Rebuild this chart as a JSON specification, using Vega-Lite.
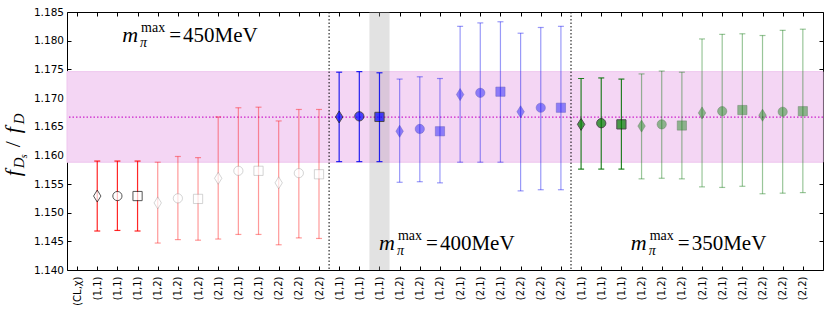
{
  "$schema": "https://vega.github.io/schema/vega-lite/v6.json",
  "width": 756,
  "height": 258,
  "autosize": {"type": "none"},
  "padding": {"left": 67, "top": 12, "right": 7, "bottom": 45},
  "config": {
    "font": "DejaVu Sans",
    "view": {"stroke": "black", "strokeWidth": 1},
    "axis": {"domain": false, "grid": false, "tickColor": "black", "tickSize": -4, "labelColor": "black", "labelFont": "DejaVu Sans", "titleFont": "DejaVu Sans"}
  },
  "datasets": {
    "pts": [
      {"idx": 1, "fit": "(1,1)", "mpi": "450", "variant": "A", "val": 1.1529, "lo": 1.1468, "hi": 1.1590},
      {"idx": 2, "fit": "(1,1)", "mpi": "450", "variant": "B", "val": 1.1529, "lo": 1.1469, "hi": 1.1590},
      {"idx": 3, "fit": "(1,1)", "mpi": "450", "variant": "C", "val": 1.1529, "lo": 1.1468, "hi": 1.1590},
      {"idx": 4, "fit": "(1,2)", "mpi": "450", "variant": "A", "val": 1.1517, "lo": 1.1447, "hi": 1.1588},
      {"idx": 5, "fit": "(1,2)", "mpi": "450", "variant": "B", "val": 1.1525, "lo": 1.1453, "hi": 1.1598},
      {"idx": 6, "fit": "(1,2)", "mpi": "450", "variant": "C", "val": 1.1524, "lo": 1.1452, "hi": 1.1596},
      {"idx": 7, "fit": "(2,1)", "mpi": "450", "variant": "A", "val": 1.1560, "lo": 1.1454, "hi": 1.1667},
      {"idx": 8, "fit": "(2,1)", "mpi": "450", "variant": "B", "val": 1.1573, "lo": 1.1462, "hi": 1.1683},
      {"idx": 9, "fit": "(2,1)", "mpi": "450", "variant": "C", "val": 1.1573, "lo": 1.1462, "hi": 1.1684},
      {"idx": 10, "fit": "(2,2)", "mpi": "450", "variant": "A", "val": 1.1552, "lo": 1.1444, "hi": 1.1660},
      {"idx": 11, "fit": "(2,2)", "mpi": "450", "variant": "B", "val": 1.1569, "lo": 1.1456, "hi": 1.1680},
      {"idx": 12, "fit": "(2,2)", "mpi": "450", "variant": "C", "val": 1.1567, "lo": 1.1455, "hi": 1.1680},
      {"idx": 13, "fit": "(1,1)", "mpi": "400", "variant": "A", "val": 1.1667, "lo": 1.1589, "hi": 1.1745},
      {"idx": 14, "fit": "(1,1)", "mpi": "400", "variant": "B", "val": 1.1668, "lo": 1.1589, "hi": 1.1746},
      {"idx": 15, "fit": "(1,1)", "mpi": "400", "variant": "C", "val": 1.1667, "lo": 1.1589, "hi": 1.1744},
      {"idx": 16, "fit": "(1,2)", "mpi": "400", "variant": "A", "val": 1.1642, "lo": 1.1553, "hi": 1.1733},
      {"idx": 17, "fit": "(1,2)", "mpi": "400", "variant": "B", "val": 1.1646, "lo": 1.1554, "hi": 1.1737},
      {"idx": 18, "fit": "(1,2)", "mpi": "400", "variant": "C", "val": 1.1642, "lo": 1.1552, "hi": 1.1734},
      {"idx": 19, "fit": "(2,1)", "mpi": "400", "variant": "A", "val": 1.1706, "lo": 1.1588, "hi": 1.1825},
      {"idx": 20, "fit": "(2,1)", "mpi": "400", "variant": "B", "val": 1.1709, "lo": 1.1588, "hi": 1.1831},
      {"idx": 21, "fit": "(2,1)", "mpi": "400", "variant": "C", "val": 1.1711, "lo": 1.1588, "hi": 1.1833},
      {"idx": 22, "fit": "(2,2)", "mpi": "400", "variant": "A", "val": 1.1676, "lo": 1.1538, "hi": 1.1813},
      {"idx": 23, "fit": "(2,2)", "mpi": "400", "variant": "B", "val": 1.1683, "lo": 1.1540, "hi": 1.1823},
      {"idx": 24, "fit": "(2,2)", "mpi": "400", "variant": "C", "val": 1.1683, "lo": 1.1540, "hi": 1.1825},
      {"idx": 25, "fit": "(1,1)", "mpi": "350", "variant": "A", "val": 1.1654, "lo": 1.1576, "hi": 1.1734},
      {"idx": 26, "fit": "(1,1)", "mpi": "350", "variant": "B", "val": 1.1656, "lo": 1.1576, "hi": 1.1735},
      {"idx": 27, "fit": "(1,1)", "mpi": "350", "variant": "C", "val": 1.1654, "lo": 1.1576, "hi": 1.1733},
      {"idx": 28, "fit": "(1,2)", "mpi": "350", "variant": "A", "val": 1.1651, "lo": 1.1559, "hi": 1.1742},
      {"idx": 29, "fit": "(1,2)", "mpi": "350", "variant": "B", "val": 1.1654, "lo": 1.1560, "hi": 1.1747},
      {"idx": 30, "fit": "(1,2)", "mpi": "350", "variant": "C", "val": 1.1652, "lo": 1.1559, "hi": 1.1745},
      {"idx": 31, "fit": "(2,1)", "mpi": "350", "variant": "A", "val": 1.1674, "lo": 1.1545, "hi": 1.1803},
      {"idx": 32, "fit": "(2,1)", "mpi": "350", "variant": "B", "val": 1.1677, "lo": 1.1544, "hi": 1.1811},
      {"idx": 33, "fit": "(2,1)", "mpi": "350", "variant": "C", "val": 1.1679, "lo": 1.1546, "hi": 1.1812},
      {"idx": 34, "fit": "(2,2)", "mpi": "350", "variant": "A", "val": 1.1670, "lo": 1.1533, "hi": 1.1809},
      {"idx": 35, "fit": "(2,2)", "mpi": "350", "variant": "B", "val": 1.1676, "lo": 1.1534, "hi": 1.1818},
      {"idx": 36, "fit": "(2,2)", "mpi": "350", "variant": "C", "val": 1.1677, "lo": 1.1535, "hi": 1.1820}
    ],
    "ann": [
      {"x": 4.86, "y": 1.1797, "label": "450MeV"},
      {"x": 17.6, "y": 1.1435, "label": "400MeV"},
      {"x": 30.09, "y": 1.1435, "label": "350MeV"}
    ],
    "ytitle": [
      {"x": -2.83, "y": 1.1560}
    ]
  },
  "resolve": {"axis": {"x": "independent", "y": "independent"}},
  "layer": [
    {
      "data": {"values": [{"lo": 1.1588, "hi": 1.1746}]},
      "mark": {"type": "rect", "fill": "#f4d6f4", "stroke": "#eec6ee", "strokeWidth": 1},
      "encoding": {
        "y": {"field": "lo", "type": "quantitative", "scale": {"domain": [1.14, 1.185], "nice": false, "zero": false}, "axis": null},
        "y2": {"field": "hi"}
      }
    },
    {
      "data": {"values": [{"a": 14.5, "b": 15.5}]},
      "mark": {"type": "rect", "fill": "#a8a8a8", "opacity": 0.33},
      "encoding": {
        "x": {"field": "a", "type": "quantitative", "scale": {"domain": [-0.5, 37], "nice": false, "zero": false}, "axis": null},
        "x2": {"field": "b"}
      }
    },
    {
      "data": {"values": [{"c": 1.16668}]},
      "mark": {"type": "rule", "color": "#cc22cc", "strokeDash": [1.5, 2], "strokeWidth": 1.2},
      "encoding": {
        "y": {"field": "c", "type": "quantitative", "scale": {"domain": [1.14, 1.185], "nice": false, "zero": false},
              "axis": {"orient": "right", "labels": false, "values": [1.14, 1.145, 1.15, 1.155, 1.16, 1.165, 1.17, 1.175, 1.18, 1.185], "title": null}}
      }
    },
    {
      "data": {"values": [{"s": 12.5}, {"s": 24.5}]},
      "mark": {"type": "rule", "color": "black", "strokeDash": [1.5, 2], "strokeWidth": 1},
      "encoding": {
        "x": {"field": "s", "type": "quantitative", "scale": {"domain": [-0.5, 37], "nice": false, "zero": false},
              "axis": {"orient": "top", "labels": false, "title": null, "values": [0,1,2,3,4,5,6,7,8,9,10,11,12,13,14,15,16,17,18,19,20,21,22,23,24,25,26,27,28,29,30,31,32,33,34,35,36]}}
      }
    },
    {
      "data": {"name": "pts"},
      "mark": {"type": "rule", "strokeWidth": 1.2},
      "encoding": {
        "x": {"field": "idx", "type": "quantitative", "scale": {"domain": [-0.5, 37], "nice": false, "zero": false},
              "axis": {"orient": "bottom", "title": null, "labelAngle": 270, "labelAlign": "right", "labelBaseline": "middle", "labelFontSize": 10, "labelPadding": 10,
                       "values": [0,1,2,3,4,5,6,7,8,9,10,11,12,13,14,15,16,17,18,19,20,21,22,23,24,25,26,27,28,29,30,31,32,33,34,35,36],
                       "labelExpr": "['(CL,χ)','(1,1)','(1,1)','(1,1)','(1,2)','(1,2)','(1,2)','(2,1)','(2,1)','(2,1)','(2,2)','(2,2)','(2,2)','(1,1)','(1,1)','(1,1)','(1,2)','(1,2)','(1,2)','(2,1)','(2,1)','(2,1)','(2,2)','(2,2)','(2,2)','(1,1)','(1,1)','(1,1)','(1,2)','(1,2)','(1,2)','(2,1)','(2,1)','(2,1)','(2,2)','(2,2)','(2,2)'][datum.value]"}},
        "y": {"field": "lo", "type": "quantitative", "scale": {"domain": [1.14, 1.185], "nice": false, "zero": false},
              "axis": {"orient": "left", "title": null, "format": ".3f", "labelFontSize": 10.5, "labelPadding": 7.5, "values": [1.14, 1.145, 1.15, 1.155, 1.16, 1.165, 1.17, 1.175, 1.18, 1.185]}},
        "y2": {"field": "hi"},
        "color": {"field": "mpi", "type": "nominal", "scale": {"domain": ["450", "400", "350"], "range": ["#ff0000", "#0000ee", "#007000"]}, "legend": null},
        "opacity": {"condition": {"test": "datum.fit === '(1,1)'", "value": 0.85}, "value": 0.4}
      }
    },
    {
      "data": {"name": "pts"},
      "mark": {"type": "tick", "orient": "horizontal", "size": 6, "thickness": 1.2},
      "encoding": {
        "x": {"field": "idx", "type": "quantitative", "scale": {"domain": [-0.5, 37], "nice": false, "zero": false}, "axis": null},
        "y": {"field": "lo", "type": "quantitative", "scale": {"domain": [1.14, 1.185], "nice": false, "zero": false}, "axis": null},
        "color": {"field": "mpi", "type": "nominal", "scale": {"domain": ["450", "400", "350"], "range": ["#ff0000", "#0000ee", "#007000"]}, "legend": null},
        "opacity": {"condition": {"test": "datum.fit === '(1,1)'", "value": 0.85}, "value": 0.4}
      }
    },
    {
      "data": {"name": "pts"},
      "mark": {"type": "tick", "orient": "horizontal", "size": 6, "thickness": 1.2},
      "encoding": {
        "x": {"field": "idx", "type": "quantitative", "scale": {"domain": [-0.5, 37], "nice": false, "zero": false}, "axis": null},
        "y": {"field": "hi", "type": "quantitative", "scale": {"domain": [1.14, 1.185], "nice": false, "zero": false}, "axis": null},
        "color": {"field": "mpi", "type": "nominal", "scale": {"domain": ["450", "400", "350"], "range": ["#ff0000", "#0000ee", "#007000"]}, "legend": null},
        "opacity": {"condition": {"test": "datum.fit === '(1,1)'", "value": 0.85}, "value": 0.4}
      }
    },
    {
      "data": {"name": "pts"},
      "mark": {"type": "point", "strokeWidth": 1, "size": 85},
      "encoding": {
        "x": {"field": "idx", "type": "quantitative", "scale": {"domain": [-0.5, 37], "nice": false, "zero": false}, "axis": null},
        "y": {"field": "val", "type": "quantitative", "scale": {"domain": [1.14, 1.185], "nice": false, "zero": false}, "axis": null},
        "shape": {"field": "variant", "type": "nominal", "scale": {"domain": ["A", "B", "C"], "range": ["M0,-1.3L0.8,0L0,1.3L-0.8,0Z", "circle", "square"]}, "legend": null},
        "fill": {"field": "mpi", "type": "nominal", "scale": {"domain": ["450", "400", "350"], "range": ["#ffffff", "#0000ff", "#007f00"]}, "legend": null},
        "stroke": {"condition": {"test": "datum.fit === '(1,1)'", "value": "#111111"}, "field": "mpi", "type": "nominal",
                   "scale": {"domain": ["450", "400", "350"], "range": ["#8a8a8a", "#3333aa", "#336633"]}, "legend": null},
        "fillOpacity": {"condition": {"test": "datum.fit === '(1,1)' || datum.mpi === '450'", "value": 1}, "value": 0.6},
        "strokeOpacity": {"condition": {"test": "datum.fit === '(1,1)'", "value": 1}, "value": 0.5}
      }
    },
    {
      "data": {"name": "ann"},
      "mark": {"type": "text", "text": "=", "font": "Liberation Serif", "fontSize": 21, "align": "center", "baseline": "alphabetic", "color": "black"},
      "encoding": {
        "x": {"field": "x", "type": "quantitative", "scale": {"domain": [-0.5, 37], "nice": false, "zero": false}, "axis": null},
        "y": {"field": "y", "type": "quantitative", "scale": {"domain": [1.14, 1.185], "nice": false, "zero": false}, "axis": null}
      }
    },
    {
      "data": {"name": "ann"},
      "mark": {"type": "text", "font": "Liberation Serif", "fontSize": 21, "align": "left", "baseline": "alphabetic", "dx": 8, "color": "black"},
      "encoding": {
        "x": {"field": "x", "type": "quantitative", "scale": {"domain": [-0.5, 37], "nice": false, "zero": false}, "axis": null},
        "y": {"field": "y", "type": "quantitative", "scale": {"domain": [1.14, 1.185], "nice": false, "zero": false}, "axis": null},
        "text": {"field": "label"}
      }
    },
    {
      "data": {"name": "ann"},
      "mark": {"type": "text", "text": "m", "font": "Liberation Serif", "fontStyle": "italic", "fontSize": 22, "align": "right", "baseline": "alphabetic", "dx": -37, "color": "black"},
      "encoding": {
        "x": {"field": "x", "type": "quantitative", "scale": {"domain": [-0.5, 37], "nice": false, "zero": false}, "axis": null},
        "y": {"field": "y", "type": "quantitative", "scale": {"domain": [1.14, 1.185], "nice": false, "zero": false}, "axis": null}
      }
    },
    {
      "data": {"name": "ann"},
      "mark": {"type": "text", "text": "max", "font": "Liberation Serif", "fontSize": 14, "align": "left", "baseline": "alphabetic", "dx": -34, "dy": -10, "color": "black"},
      "encoding": {
        "x": {"field": "x", "type": "quantitative", "scale": {"domain": [-0.5, 37], "nice": false, "zero": false}, "axis": null},
        "y": {"field": "y", "type": "quantitative", "scale": {"domain": [1.14, 1.185], "nice": false, "zero": false}, "axis": null}
      }
    },
    {
      "data": {"name": "ann"},
      "mark": {"type": "text", "text": "π", "font": "Liberation Serif", "fontStyle": "italic", "fontSize": 14, "align": "left", "baseline": "alphabetic", "dx": -35, "dy": 5, "color": "black"},
      "encoding": {
        "x": {"field": "x", "type": "quantitative", "scale": {"domain": [-0.5, 37], "nice": false, "zero": false}, "axis": null},
        "y": {"field": "y", "type": "quantitative", "scale": {"domain": [1.14, 1.185], "nice": false, "zero": false}, "axis": null}
      }
    },
    {
      "data": {"name": "ytitle"},
      "mark": {"type": "text", "text": "f", "font": "Liberation Serif", "fontStyle": "italic", "fontSize": 22, "angle": 270, "align": "left", "baseline": "alphabetic", "dx": 2, "color": "black"},
      "encoding": {
        "x": {"field": "x", "type": "quantitative", "scale": {"domain": [-0.5, 37], "nice": false, "zero": false}, "axis": null},
        "y": {"field": "y", "type": "quantitative", "scale": {"domain": [1.14, 1.185], "nice": false, "zero": false}, "axis": null}
      }
    },
    {
      "data": {"name": "ytitle"},
      "mark": {"type": "text", "text": "D", "font": "Liberation Serif", "fontStyle": "italic", "fontSize": 15, "angle": 270, "align": "left", "baseline": "alphabetic", "dx": 10, "dy": 4, "color": "black"},
      "encoding": {
        "x": {"field": "x", "type": "quantitative", "scale": {"domain": [-0.5, 37], "nice": false, "zero": false}, "axis": null},
        "y": {"field": "y", "type": "quantitative", "scale": {"domain": [1.14, 1.185], "nice": false, "zero": false}, "axis": null}
      }
    },
    {
      "data": {"name": "ytitle"},
      "mark": {"type": "text", "text": "s", "font": "Liberation Serif", "fontStyle": "italic", "fontSize": 10, "angle": 270, "align": "left", "baseline": "alphabetic", "dx": 20, "dy": 7, "color": "black"},
      "encoding": {
        "x": {"field": "x", "type": "quantitative", "scale": {"domain": [-0.5, 37], "nice": false, "zero": false}, "axis": null},
        "y": {"field": "y", "type": "quantitative", "scale": {"domain": [1.14, 1.185], "nice": false, "zero": false}, "axis": null}
      }
    },
    {
      "data": {"name": "ytitle"},
      "mark": {"type": "text", "text": "/", "font": "Liberation Serif", "fontSize": 22, "angle": 270, "align": "left", "baseline": "alphabetic", "dx": 31, "color": "black"},
      "encoding": {
        "x": {"field": "x", "type": "quantitative", "scale": {"domain": [-0.5, 37], "nice": false, "zero": false}, "axis": null},
        "y": {"field": "y", "type": "quantitative", "scale": {"domain": [1.14, 1.185], "nice": false, "zero": false}, "axis": null}
      }
    },
    {
      "data": {"name": "ytitle"},
      "mark": {"type": "text", "text": "f", "font": "Liberation Serif", "fontStyle": "italic", "fontSize": 22, "angle": 270, "align": "left", "baseline": "alphabetic", "dx": 45, "color": "black"},
      "encoding": {
        "x": {"field": "x", "type": "quantitative", "scale": {"domain": [-0.5, 37], "nice": false, "zero": false}, "axis": null},
        "y": {"field": "y", "type": "quantitative", "scale": {"domain": [1.14, 1.185], "nice": false, "zero": false}, "axis": null}
      }
    },
    {
      "data": {"name": "ytitle"},
      "mark": {"type": "text", "text": "D", "font": "Liberation Serif", "fontStyle": "italic", "fontSize": 15, "angle": 270, "align": "left", "baseline": "alphabetic", "dx": 54, "dy": 4, "color": "black"},
      "encoding": {
        "x": {"field": "x", "type": "quantitative", "scale": {"domain": [-0.5, 37], "nice": false, "zero": false}, "axis": null},
        "y": {"field": "y", "type": "quantitative", "scale": {"domain": [1.14, 1.185], "nice": false, "zero": false}, "axis": null}
      }
    }
  ]
}
